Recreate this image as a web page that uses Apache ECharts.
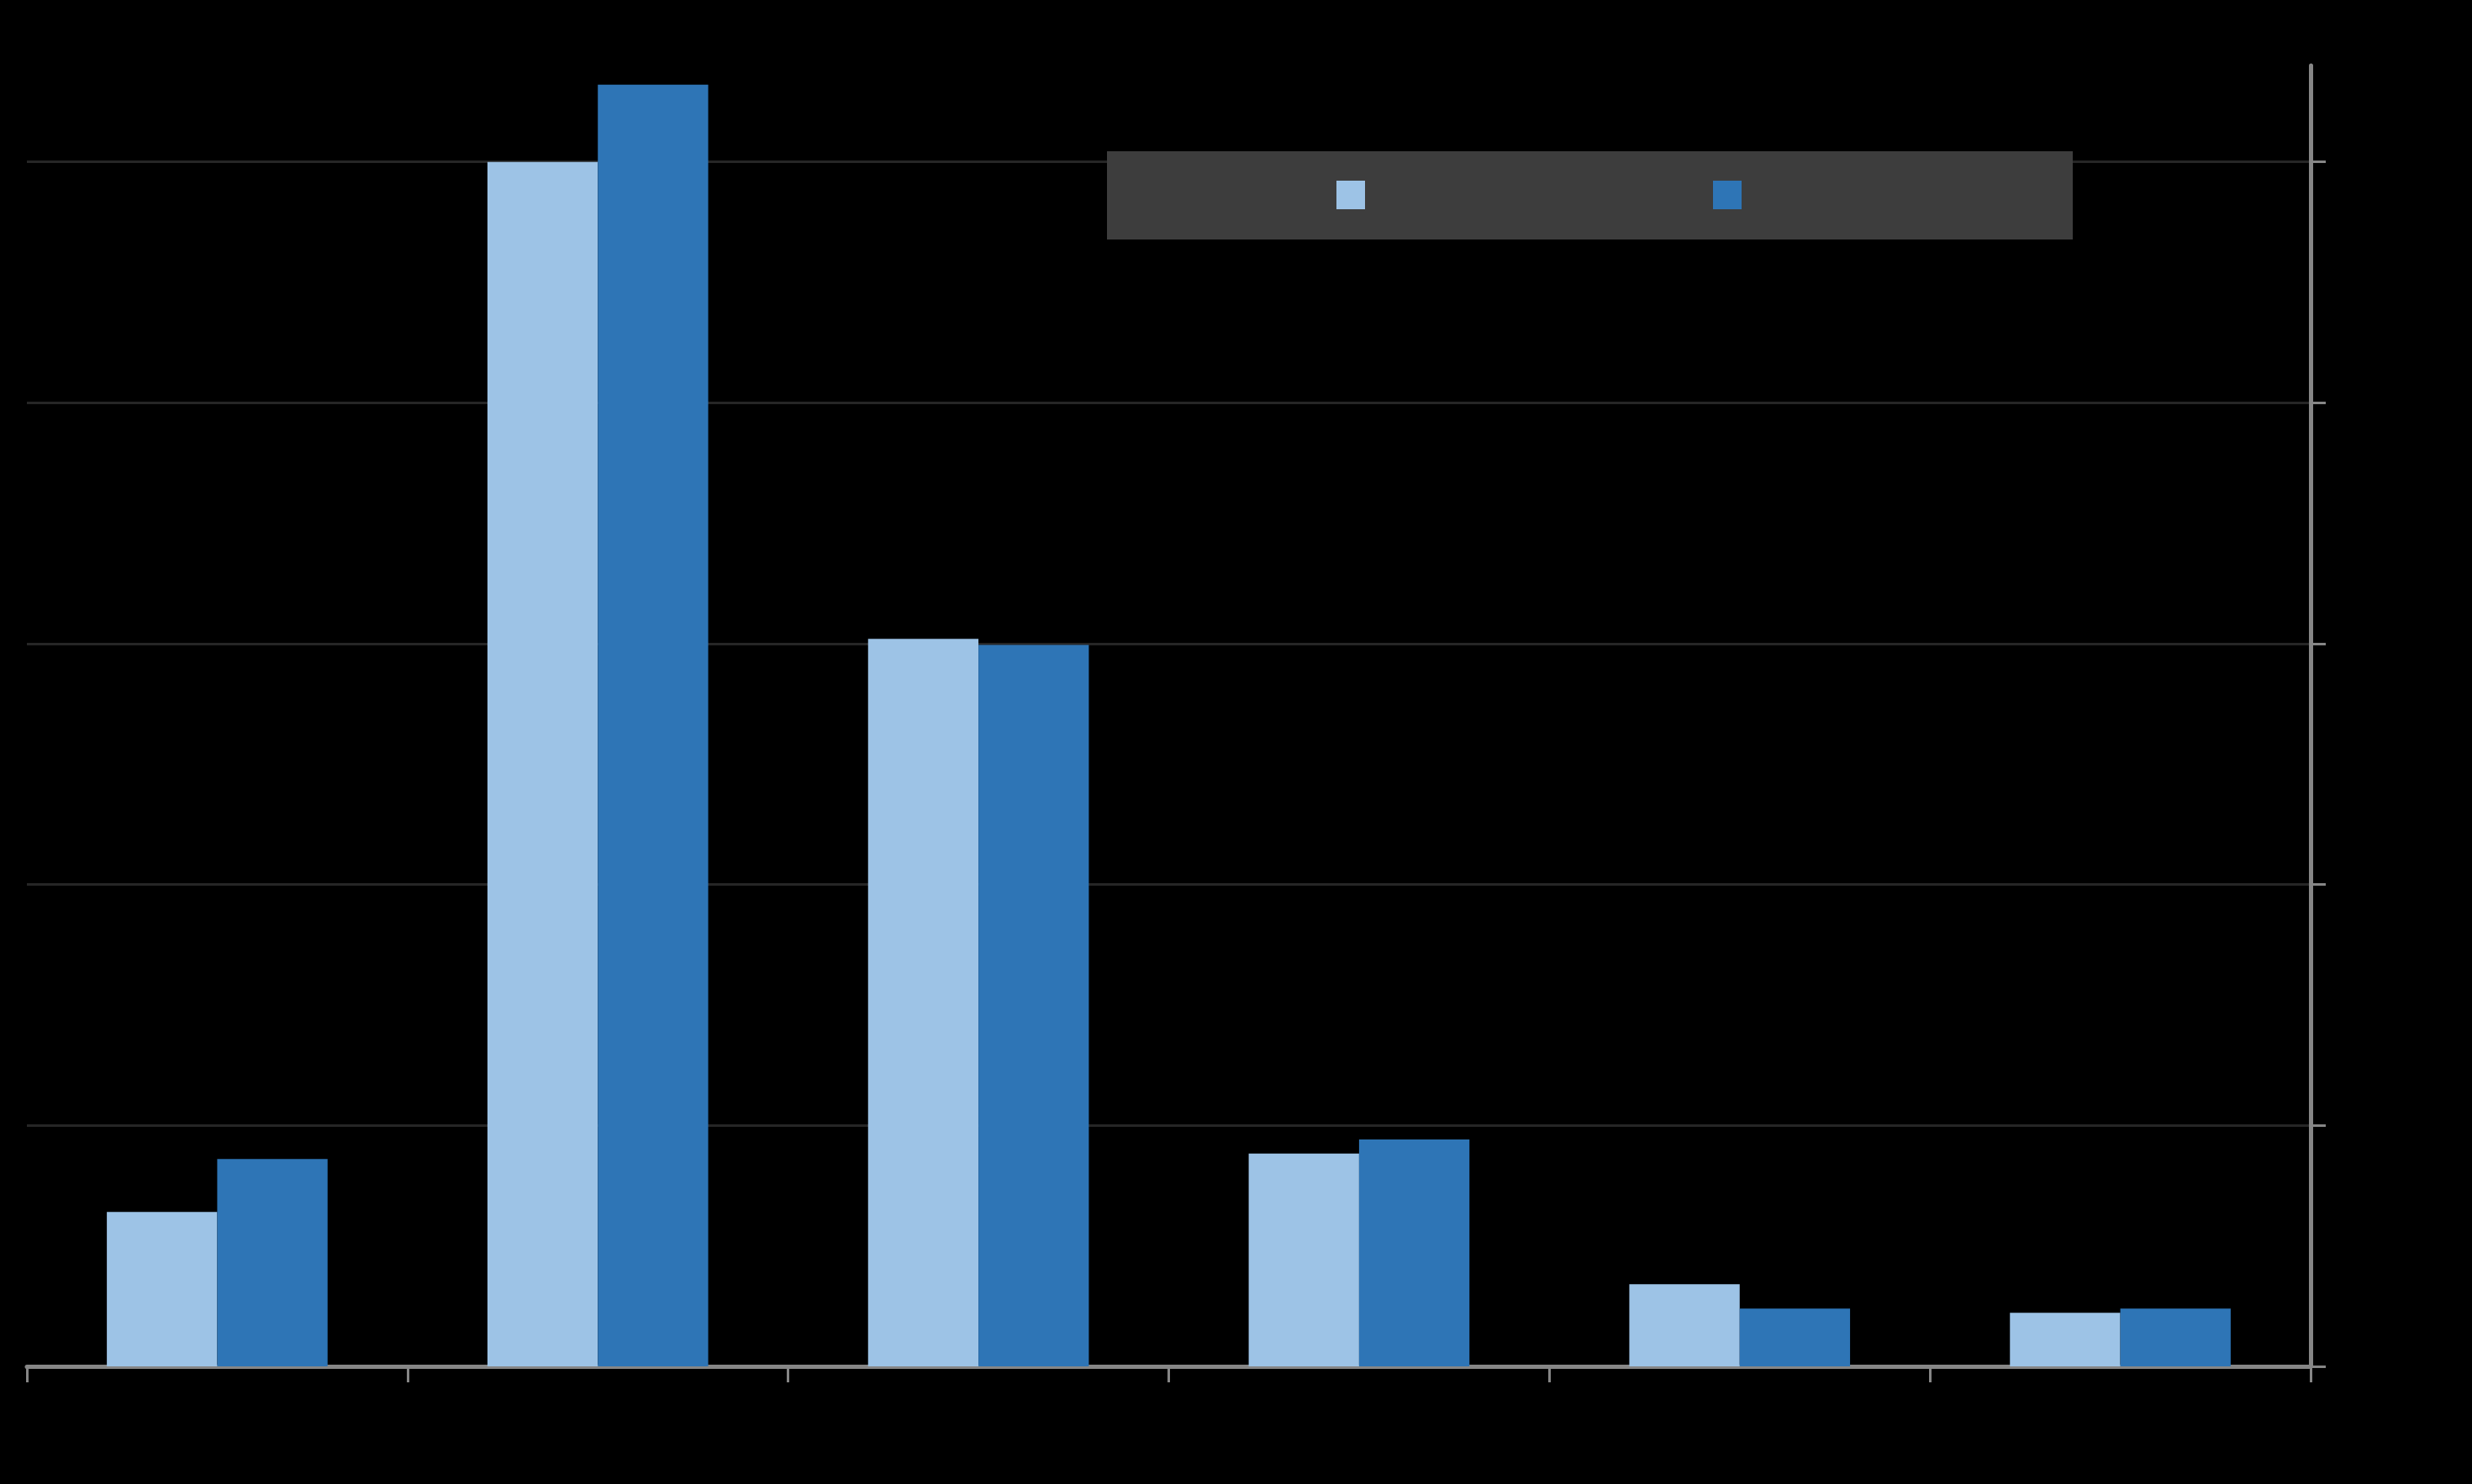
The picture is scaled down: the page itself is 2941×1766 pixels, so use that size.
<!DOCTYPE html>
<html>
<head>
<meta charset="utf-8">
<style>
  html, body { margin: 0; padding: 0; background: #000; }
  #chart { width: 2941px; height: 1766px; }
</style>
<script src="https://cdn.jsdelivr.net/npm/echarts@6/dist/echarts.min.js"></script>
</head>
<body>
<div id="chart"></div>
<script>
const categories = ["Category 1", "Category 2", "Category 3", "Category 4", "Category 5", "Category 6"];
const seriesNames = ["Series 1", "Series 2"];
const series1Values = [0.641, 5.0, 3.02, 0.883, 0.341, 0.222];
const series2Values = [0.861, 5.321, 2.995, 0.942, 0.240, 0.240];
const yTickValues = [0, 1, 2, 3, 4, 5];
const yMax = 5.4;

const chart = echarts.init(document.getElementById('chart'), null, { renderer: 'canvas' });

const gridColor = '#262626';
const axisColor = '#868686';
const legendBg = '#3d3d3d';

chart.setOption({
  backgroundColor: '#000000',
  animation: false,
  grid: { left: 32, right: 192, top: 78, bottom: 140, containLabel: false },
  legend: {
    data: seriesNames,
    left: 1317,
    top: 180,
    orient: 'horizontal',
    backgroundColor: legendBg,
    padding: [35, 394, 36, 273],
    itemWidth: 34,
    itemHeight: 34,
    itemGap: 414,
    icon: 'rect',
    formatter: function () { return ''; },
    textStyle: { color: legendBg, fontSize: 28, fontFamily: 'Liberation Sans' }
  },
  xAxis: {
    type: 'category',
    data: categories,
    boundaryGap: true,
    axisLine: { show: true, lineStyle: { color: axisColor, width: 5 } },
    axisTick: { show: true, interval: 0, length: 19, lineStyle: { color: axisColor, width: 3 } },
    axisLabel: { show: false },
    splitLine: { show: false }
  },
  yAxis: {
    type: 'value',
    position: 'right',
    min: 0,
    max: yMax,
    interval: 1,
    axisLine: { show: true, lineStyle: { color: axisColor, width: 5 } },
    axisTick: { show: true, inside: false, length: 18, customValues: yTickValues, lineStyle: { color: axisColor, width: 3 } },
    axisLabel: { show: false },
    splitLine: {
      show: true,
      lineStyle: {
        color: [gridColor, gridColor, gridColor, gridColor, gridColor, gridColor, 'rgba(0,0,0,0)'],
        width: 3
      }
    }
  },
  series: [
    {
      name: seriesNames[0],
      type: 'bar',
      data: series1Values,
      barGap: '0%',
      barCategoryGap: '42%',
      itemStyle: { color: '#9dc3e6' },
      z: 2
    },
    {
      name: seriesNames[1],
      type: 'bar',
      data: series2Values,
      barGap: '0%',
      barCategoryGap: '42%',
      itemStyle: { color: '#2e75b6' },
      z: 2
    }
  ]
});
</script>
</body>
</html>
